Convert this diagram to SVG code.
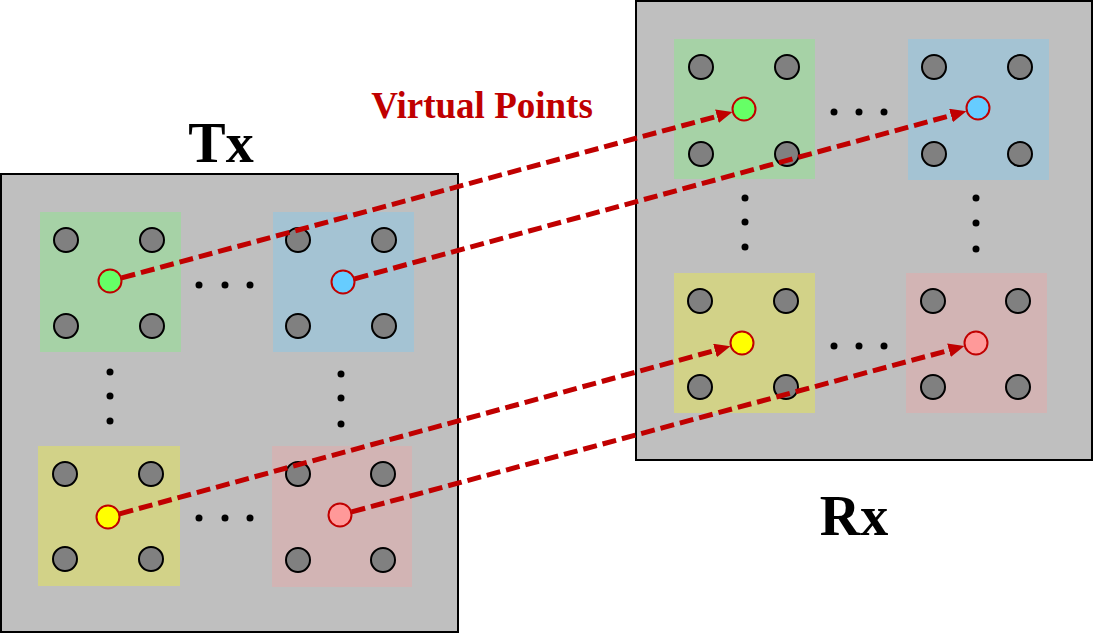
<svg xmlns="http://www.w3.org/2000/svg" width="1094" height="634" viewBox="0 0 1094 634">
<style>
.panel{fill:#BFBFBF;stroke:#000;stroke-width:2}
.g{fill:#A6D2A6}.b{fill:#A4C3D3}.y{fill:#D2D288}.p{fill:#D2B4B4}
.ant{fill:#808080;stroke:#000;stroke-width:2}
.vp{stroke:#C00000;stroke-width:2}
.dot{fill:#000}
.lbl{font-family:"Liberation Serif","Times New Roman",serif;font-weight:bold;fill:#000;font-size:56px;text-anchor:middle}
.vlbl{font-family:"Liberation Serif","Times New Roman",serif;font-weight:bold;fill:#C00000;font-size:37px;text-anchor:middle}
.conn{stroke:#C00000;stroke-width:5;stroke-dasharray:14 6;fill:none}
</style>
<defs>
<marker id="ah" markerUnits="userSpaceOnUse" markerWidth="18" markerHeight="16" refX="8" refY="7" orient="auto">
<path d="M0,0 L16,7 L0,14 z" fill="#C00000"/>
</marker>
</defs>
<g id="tx">
<rect class="panel" x="1" y="174" width="457" height="458"/>
<g id="tx-green"><rect class="g" x="40" y="212" width="141" height="140"/>
<circle class="ant" cx="66" cy="240" r="12"/><circle class="ant" cx="152" cy="240" r="12"/><circle class="ant" cx="66" cy="326" r="12"/><circle class="ant" cx="152" cy="326" r="12"/></g>
<g id="tx-blue"><rect class="b" x="273" y="212" width="141" height="140"/>
<circle class="ant" cx="298" cy="240" r="12"/><circle class="ant" cx="384" cy="240" r="12"/><circle class="ant" cx="298" cy="326" r="12"/><circle class="ant" cx="384" cy="326" r="12"/></g>
<g id="tx-yellow"><rect class="y" x="38" y="446" width="142" height="140"/>
<circle class="ant" cx="65" cy="474" r="12"/><circle class="ant" cx="151" cy="474" r="12"/><circle class="ant" cx="65" cy="559" r="12"/><circle class="ant" cx="151" cy="559" r="12"/></g>
<g id="tx-pink"><rect class="p" x="272" y="446" width="140" height="141"/>
<circle class="ant" cx="298" cy="474" r="12"/><circle class="ant" cx="383" cy="474" r="12"/><circle class="ant" cx="298" cy="560" r="12"/><circle class="ant" cx="383" cy="560" r="12"/></g>
<g class="dot">
<circle cx="199" cy="285" r="3.5"/><circle cx="225" cy="285" r="3.5"/><circle cx="250" cy="285" r="3.5"/>
<circle cx="199" cy="518" r="3.5"/><circle cx="225" cy="518" r="3.5"/><circle cx="250" cy="518" r="3.5"/>
<circle cx="110" cy="372" r="3.5"/><circle cx="110" cy="396" r="3.5"/><circle cx="110" cy="421" r="3.5"/>
<circle cx="341" cy="374" r="3.5"/><circle cx="341" cy="398" r="3.5"/><circle cx="341" cy="424" r="3.5"/>
</g>
<text class="lbl" x="221" y="162">Tx</text>
</g>
<g id="rx">
<rect class="panel" x="636" y="1" width="456" height="459"/>
<g id="rx-green"><rect class="g" x="674" y="39" width="141" height="140"/>
<circle class="ant" cx="701" cy="67" r="12"/><circle class="ant" cx="787" cy="67" r="12"/><circle class="ant" cx="701" cy="154" r="12"/><circle class="ant" cx="787" cy="154" r="12"/></g>
<g id="rx-blue"><rect class="b" x="908" y="39" width="141" height="141"/>
<circle class="ant" cx="934" cy="67" r="12"/><circle class="ant" cx="1020" cy="67" r="12"/><circle class="ant" cx="934" cy="154" r="12"/><circle class="ant" cx="1020" cy="154" r="12"/></g>
<g id="rx-yellow"><rect class="y" x="674" y="273" width="141" height="140"/>
<circle class="ant" cx="700" cy="301" r="12"/><circle class="ant" cx="786" cy="301" r="12"/><circle class="ant" cx="700" cy="387" r="12"/><circle class="ant" cx="786" cy="387" r="12"/></g>
<g id="rx-pink"><rect class="p" x="906" y="273" width="141" height="140"/>
<circle class="ant" cx="933" cy="301" r="12"/><circle class="ant" cx="1018" cy="301" r="12"/><circle class="ant" cx="933" cy="387" r="12"/><circle class="ant" cx="1018" cy="387" r="12"/></g>
<g class="dot">
<circle cx="834" cy="112" r="3.5"/><circle cx="859" cy="112" r="3.5"/><circle cx="884" cy="112" r="3.5"/>
<circle cx="834" cy="346" r="3.5"/><circle cx="859" cy="346" r="3.5"/><circle cx="884" cy="346" r="3.5"/>
<circle cx="745" cy="198" r="3.5"/><circle cx="745" cy="222" r="3.5"/><circle cx="745" cy="247" r="3.5"/>
<circle cx="976" cy="198" r="3.5"/><circle cx="976" cy="223" r="3.5"/><circle cx="976" cy="249" r="3.5"/>
</g>
<text class="lbl" x="854" y="535">Rx</text>
</g>
<g id="virtual-points">
<circle class="vp" cx="110" cy="281" r="11.5" fill="#66FF66"/>
<circle class="vp" cx="343" cy="282" r="11.5" fill="#66CCFF"/>
<circle class="vp" cx="108" cy="517" r="11.5" fill="#FFFF00"/>
<circle class="vp" cx="340" cy="515" r="11.5" fill="#FF9999"/>
<circle class="vp" cx="744" cy="109" r="11.5" fill="#66FF66"/>
<circle class="vp" cx="978" cy="108" r="11.5" fill="#66CCFF"/>
<circle class="vp" cx="742" cy="343" r="11.5" fill="#FFFF00"/>
<circle class="vp" cx="976" cy="343" r="11.5" fill="#FF9999"/>
<text class="vlbl" x="482" y="118">Virtual Points</text>
</g>
<g id="connectors">
<line class="conn" x1="121.6" y1="277.9" x2="724.7" y2="114.2" marker-end="url(#ah)"/>
<line class="conn" x1="354.6" y1="278.8" x2="958.7" y2="113.3" marker-end="url(#ah)"/>
<line class="conn" x1="119.6" y1="513.8" x2="722.7" y2="348.3" marker-end="url(#ah)"/>
<line class="conn" x1="351.6" y1="511.9" x2="956.7" y2="348.2" marker-end="url(#ah)"/>
</g>
</svg>
